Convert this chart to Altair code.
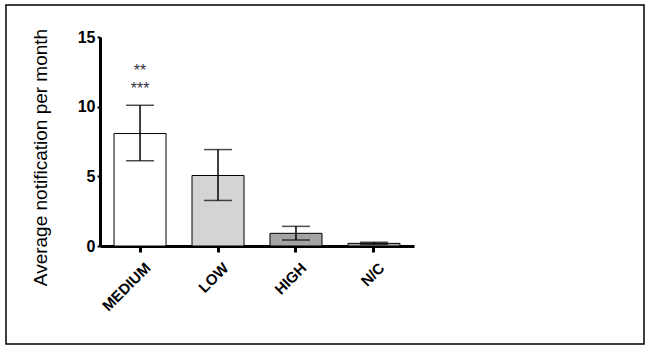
import altair as alt
import pandas as pd

categories = ["MEDIUM", "LOW", "HIGH", "N/C"]
means = [8.07, 5.06, 0.91, 0.19]
err_low = [6.12, 3.27, 0.43, 0.12]
err_high = [10.1, 6.92, 1.41, 0.27]
fills = ["#ffffff", "#d4d4d4", "#a3a3a3", "#a8a8a8"]
star_labels = ["**", "***"]
star_y = [12.8, 11.5]

df = pd.DataFrame({"cat": categories, "mean": means, "lo": err_low, "hi": err_high, "fill": fills})
stars = pd.DataFrame({"cat": ["MEDIUM", "MEDIUM"], "label": star_labels, "y": star_y})

L, T, W, H = 100, 37, 314, 209

xscale = alt.Scale(domain=categories, paddingInner=0.333, paddingOuter=0.18)
yscale = alt.Scale(domain=[0, 15], nice=False, zero=True)

xenc = alt.X("cat:N", scale=xscale, sort=categories, title=None,
             axis=alt.Axis(labelAngle=-45, labelFont="Liberation Sans", labelFontWeight="bold",
                           labelFontSize=15, labelColor="black", domainColor="black", domainWidth=3,
                           tickColor="black", tickWidth=3, tickSize=6, labelPadding=8, labelOffset=3))
yenc = alt.Y("mean:Q", scale=yscale, title="Average notification per month",
             axis=alt.Axis(values=[0, 5, 10, 15], labelFont="Liberation Sans", labelFontWeight="bold",
                           labelFontSize=16, labelColor="black", domainColor="black", domainWidth=3,
                           tickColor="black", tickWidth=2, tickSize=3, labelPadding=2, grid=False,
                           titleFont="Liberation Sans", titleFontSize=19, titleFontWeight="normal",
                           titleColor="black", titleAngle=-90, titleX=-60, titleY=120,
                           titleAlign="center", titleBaseline="middle"))

base = alt.Chart(df)
bars = base.mark_bar(stroke="black", strokeWidth=1).encode(
    x=xenc, y=yenc, fill=alt.Fill("fill:N", scale=None))
rules = base.mark_rule(color="black", strokeWidth=1.5).encode(
    x=alt.X("cat:N", scale=xscale, sort=categories), y=alt.Y("lo:Q", scale=yscale), y2="hi:Q")
cap_hi = base.mark_tick(color="black", thickness=1.5, size=28, orient="horizontal").encode(
    x=alt.X("cat:N", scale=xscale, sort=categories), y=alt.Y("hi:Q", scale=yscale))
cap_lo = base.mark_tick(color="black", thickness=1.5, size=28, orient="horizontal").encode(
    x=alt.X("cat:N", scale=xscale, sort=categories), y=alt.Y("lo:Q", scale=yscale))
star_text = alt.Chart(stars).mark_text(font="Liberation Sans", fontSize=16, color="#333344",
                                       baseline="middle", align="center", dy=3).encode(
    x=alt.X("cat:N", scale=xscale, sort=categories), y=alt.Y("y:Q", scale=yscale), text="label:N")

border = alt.Chart(pd.DataFrame({"a": [0]})).mark_rect(
    fill=None, stroke="black", strokeWidth=1.5, clip=False).encode(
    x=alt.value(6 - L), x2=alt.value(644 - L), y=alt.value(5 - T), y2=alt.value(344 - T))

chart = alt.layer(bars, rules, cap_hi, cap_lo, star_text, border).properties(
    width=W, height=H,
    autosize=alt.AutoSizeParams(type="none"),
    padding={"left": L, "top": T, "right": 649 - L - W, "bottom": 352 - T - H},
    background="white",
).configure_view(stroke=None)

chart.save("out.html", embed_options={"renderer": "svg", "actions": False})
